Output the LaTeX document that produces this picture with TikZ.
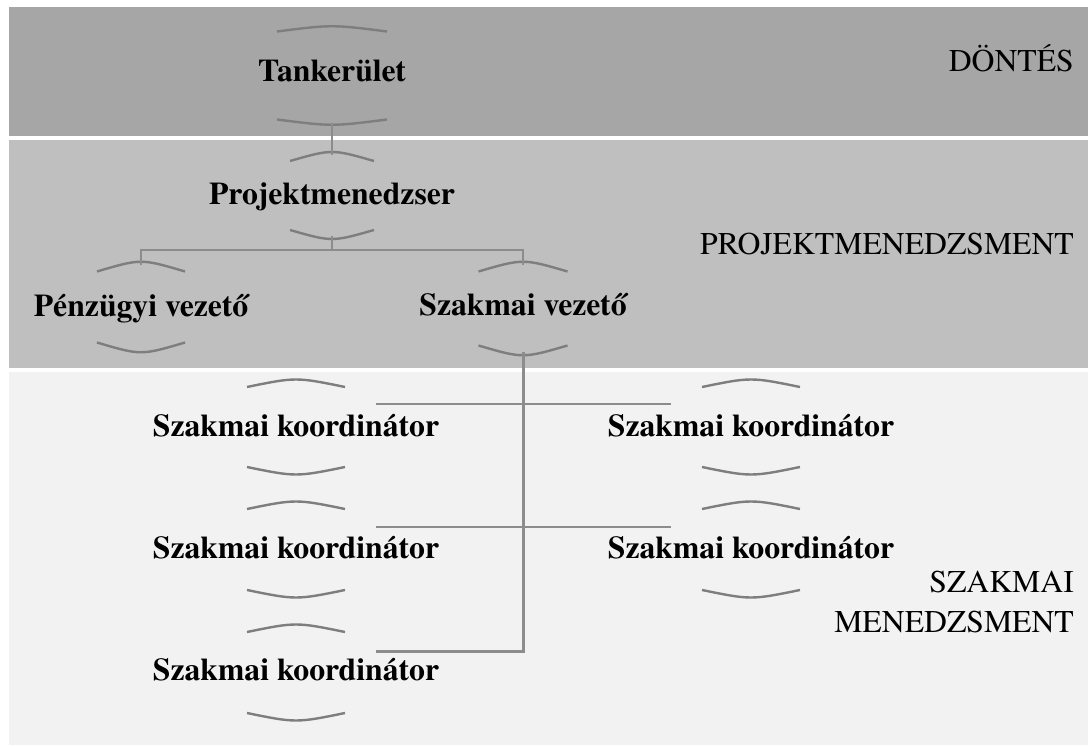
\documentclass[tikz,border=0pt]{standalone}
\usepackage{fontspec}
\IfFontExistsTF{TeX Gyre Termes}{\setmainfont{TeX Gyre Termes}}{\setmainfont{Liberation Serif}}
\usetikzlibrary{calc}
\definecolor{bandA}{HTML}{A6A6A6}
\definecolor{bandB}{HTML}{BFBFBF}
\definecolor{bandC}{HTML}{F2F2F2}
\definecolor{linegray}{HTML}{8C8C8C}
\definecolor{arcgray}{HTML}{7E7E7E}
\newcommand\toparc[3]{\draw[arcline] ($(#1)+(-#2,#3)$) .. controls ($(#1)+(0,-#3)$) .. ($(#1)+(#2,#3)$);}
\newcommand\botarc[3]{\draw[arcline] ($(#1)+(-#2,-#3)$) .. controls ($(#1)+(0,#3)$) .. ($(#1)+(#2,-#3)$);}
\begin{document}
\begin{tikzpicture}[x=1pt,y=-1pt,
  arcline/.style={draw=arcgray,line width=2.4pt},
  conn/.style={draw=linegray,line width=2.6pt},
  box/.style={font=\fontsize{31.7}{38}\selectfont\bfseries,anchor=base,inner sep=0pt},
  lbl/.style={font=\fontsize{31.7}{40}\selectfont,anchor=base east,align=right,inner sep=0pt}]
\useasboundingbox (0,0) rectangle (1088,746);
\fill[white] (0,0) rectangle (1088,746);
\fill[bandA] (9,7) rectangle (1088,136);
\fill[bandB] (9,140) rectangle (1088,368);
\fill[bandC] (9,372) rectangle (1088,745);

% band labels
\node[lbl] (lA) at (1074,72) {DÖNTÉS};
\node[lbl] (lB) at (1074,255) {PROJEKTMENEDZSMENT};
\node[lbl] (lC) at (1074,632) {SZAKMAI\\MENEDZSMENT};

% nodes
\node[box] (T) at (332,82) {Tankerület};
\coordinate (T-n) at (332,28); \coordinate (T-s) at (332,123);
\node[box] (P) at (332,205) {Projektmenedzser};
\coordinate (P-n) at (332,155); \coordinate (P-s) at (332,236);
\node[box] (F) at (141,317) {Pénzügyi vezető};
\coordinate (F-n) at (141,265); \coordinate (F-s) at (141,349);
\node[box] (V) at (523,316) {Szakmai vezető};
\coordinate (V-n) at (523,265); \coordinate (V-s) at (523,352);
\node[box] (K1) at (296,436) {Szakmai koordinátor};
\coordinate (K1-n) at (296,382); \coordinate (K1-s) at (296,472);
\node[box] (K2) at (296,558) {Szakmai koordinátor};
\coordinate (K2-n) at (296,504); \coordinate (K2-s) at (296,595);
\node[box] (K3) at (296,680) {Szakmai koordinátor};
\coordinate (K3-n) at (296,627); \coordinate (K3-s) at (296,718);
\node[box] (K4) at (751,436) {Szakmai koordinátor};
\coordinate (K4-n) at (751,382); \coordinate (K4-s) at (751,472);
\node[box] (K5) at (751,558) {Szakmai koordinátor};
\coordinate (K5-n) at (751,504); \coordinate (K5-s) at (751,595);

% arcs
\toparc{T-n}{55}{3.5} \botarc{T-s}{55}{3.5}
\toparc{P-n}{42}{6} \botarc{P-s}{42}{6}
\toparc{F-n}{44}{6.5} \botarc{F-s}{44}{6.5}
\toparc{V-n}{44.5}{6.5} \botarc{V-s}{44.5}{6.5}
\foreach \k in {K1,K2,K3}{\toparc{\k-n}{49}{5} \botarc{\k-s}{49}{5}}
\foreach \k in {K4,K5}{\toparc{\k-n}{49}{5} \botarc{\k-s}{49}{5}}

% connectors
\coordinate (pjoin) at (332,250);
\coordinate (K1-e) at (376,404); \coordinate (K4-w) at (671,404);
\coordinate (K2-e) at (376,527); \coordinate (K5-w) at (671,527);
\coordinate (K3-e) at (376,651);
\draw[conn] (T-s) -- (P-n);
\draw[conn] (P-s) -- (pjoin);
\draw[conn] (F-n) |- (pjoin) -| (V-n);
\draw[conn,line width=3pt] (V-s) |- (K3-e);
\draw[conn] (K1-e) -- (K4-w);
\draw[conn] (K2-e) -- (K5-w);
\end{tikzpicture}
\end{document}
